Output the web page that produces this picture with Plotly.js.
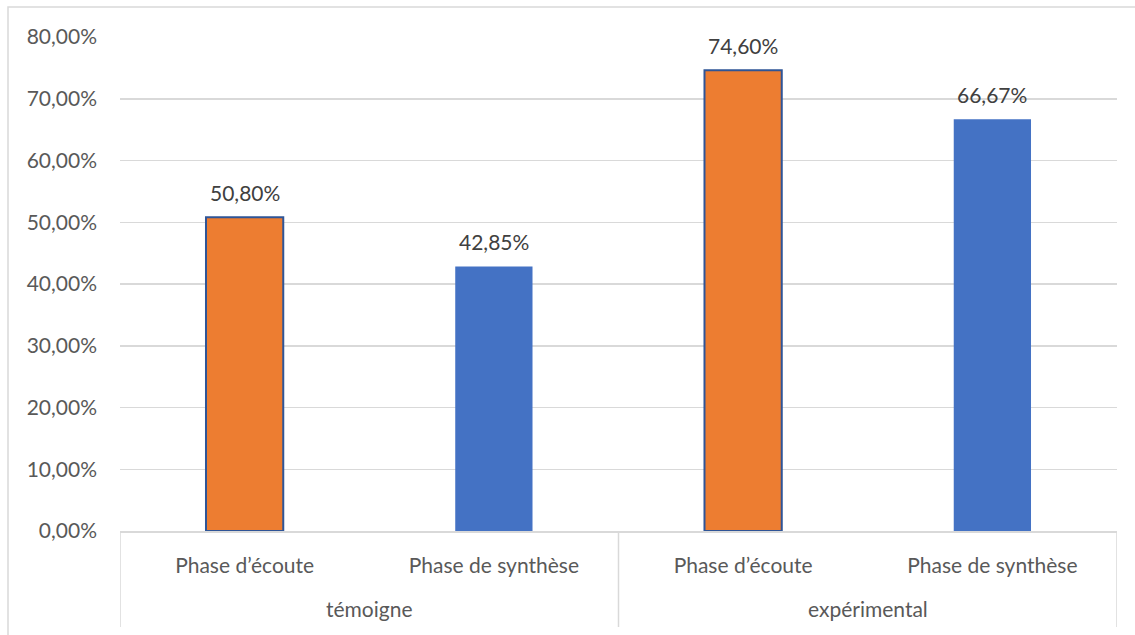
<!DOCTYPE html>
<html>
<head>
<meta charset="utf-8">
<script src="https://cdn.plot.ly/plotly-3.0.1.min.js"></script>
<style>
  html, body { margin: 0; padding: 0; background: #ffffff; }
  #chart { width: 1135px; height: 635px; }
</style>
</head>
<body>
<div id="chart"></div>
<script>
// Data
const groups = ["témoigne", "témoigne", "expérimental", "expérimental"];
const phases = ["Phase d’écoute", "Phase de synthèse", "Phase d’écoute", "Phase de synthèse"];
const values = [0.5080, 0.4285, 0.7460, 0.6667];
const barColors = ["#ED7D31", "#4472C4", "#ED7D31", "#4472C4"];
const borderWidths = [2, 0, 2, 0];
const yTickVals = [0, 0.1, 0.2, 0.3, 0.4, 0.5, 0.6, 0.7, 0.8];

const FONT = "Lato, 'Open Sans', sans-serif";
const idx = phases.map((_, i) => i);

function fmtPct(v) {
  return (v * 100).toFixed(2).replace(".", ",") + "%";
}

const trace = {
  type: "bar",
  x: idx,
  y: values,
  width: 0.31,
  marker: {
    color: barColors,
    line: { color: "#2F5597", width: borderWidths }
  },
  hoverinfo: "skip"
};

const pl = 120, pr = 1117, pt = 37, pb = 531;
const W = pr - pl, H = pb - pt;

// group centers and boundaries
const groupNames = [];
groups.forEach(g => { if (!groupNames.includes(g)) groupNames.push(g); });
const groupCenters = groupNames.map(g => {
  const ii = idx.filter(i => groups[i] === g);
  return (Math.min(...ii) + Math.max(...ii)) / 2;
});
const boundaries = [-0.5];
groupNames.forEach(g => {
  const ii = idx.filter(i => groups[i] === g);
  boundaries.push(Math.max(...ii) + 0.5);
});

const annotations = [];
values.forEach((v, i) => {
  annotations.push({
    x: i, y: v, xref: "x", yref: "y",
    text: fmtPct(v), showarrow: false,
    yanchor: "bottom", yshift: 10,
    font: { family: FONT, size: 21, color: "#404040" }
  });
});
groupNames.forEach((g, k) => {
  annotations.push({
    x: groupCenters[k], y: (pb - 608) / H, xref: "x", yref: "paper",
    text: g, showarrow: false, yanchor: "middle",
    font: { family: FONT, size: 21, color: "#595959" }
  });
});

const shapes = [{
  type: "rect",
  xref: "paper", yref: "paper",
  x0: (8 - pl) / W, x1: (1140 - pl) / W,
  y0: (pb - 640) / H, y1: (pb - 7) / H,
  line: { color: "#d9d9d9", width: 1.5 },
  fillcolor: "rgba(0,0,0,0)",
  layer: "below"
}];
boundaries.forEach(b => {
  shapes.push({
    type: "line", xref: "x", yref: "paper",
    x0: b, x1: b, y0: 0, y1: (pb - 627) / H,
    line: { color: "#d9d9d9", width: 1.5 }
  });
});

const layout = {
  width: 1135,
  height: 635,
  margin: { l: pl, r: 1135 - pr, t: pt, b: 635 - pb, pad: 0 },
  paper_bgcolor: "#ffffff",
  plot_bgcolor: "#ffffff",
  separators: ", ",
  showlegend: false,
  font: { family: FONT, size: 21, color: "#595959" },
  xaxis: {
    range: [-0.5, phases.length - 0.5],
    tickvals: idx,
    ticktext: phases,
    showline: true,
    linecolor: "#d9d9d9",
    linewidth: 1.5,
    showgrid: false,
    ticks: "",
    ticklabelstandoff: 15,
    tickfont: { family: FONT, size: 21, color: "#595959" },
    zeroline: false
  },
  yaxis: {
    range: [0, 0.8],
    tickvals: yTickVals,
    tickformat: ".2%",
    showgrid: true,
    gridcolor: "#d9d9d9",
    gridwidth: 1.5,
    showline: false,
    zeroline: false,
    ticks: "",
    ticklabelstandoff: 22,
    tickfont: { family: FONT, size: 21, color: "#595959" }
  },
  annotations: annotations,
  shapes: shapes
};

Plotly.newPlot("chart", [trace], layout, { staticPlot: true, displayModeBar: false });
</script>
</body>
</html>
